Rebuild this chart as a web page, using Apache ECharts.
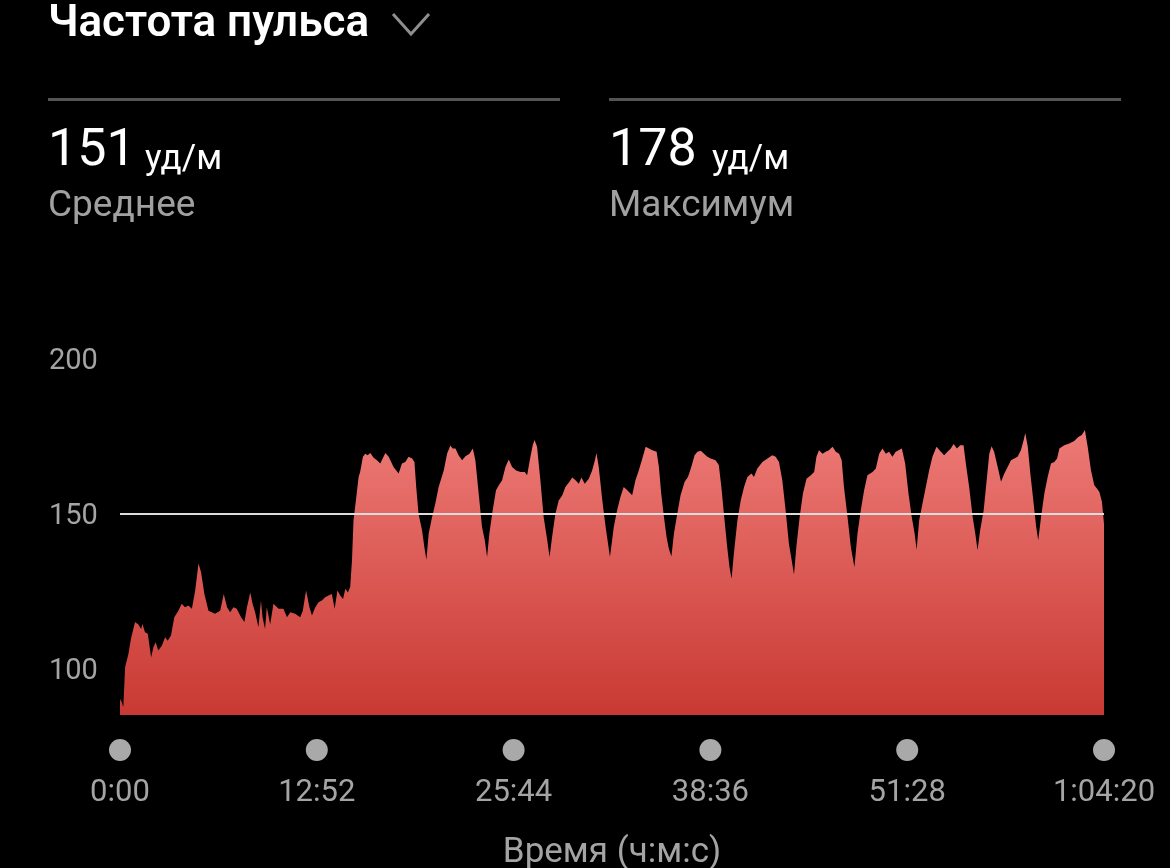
<!DOCTYPE html>
<html>
<head>
<meta charset="utf-8">
<script src="https://cdn.jsdelivr.net/npm/echarts@6/dist/echarts.min.js"></script>
<style>
html,body{margin:0;padding:0;background:#000;}
#c{width:1170px;height:868px;}
</style>
</head>
<body>
<div id="c"></div>
<script>
// ---- data (time in seconds, heart rate in bpm) ----
const timesSec = [
0,7,13,20,33,43,59,72,83,88,98,109,122,131,140,150,164,177,187,200,
213,229,242,255,268,282,295,308,318,331,347,360,373,393,407,420,432,445,458,475,
488,498,511,520,530,543,553,559,569,576,589,602,622,641,655,668,687,707,717,730,
743,753,766,779,792,805,818,831,842,853,864,875,884,894,903,910,916,927,936,942,
953,962,971,982,995,1008,1021,1041,1054,1073,1093,1106,1119,1132,1146,1155,1162,1171,1185,1194,
1202,1211,1224,1237,1250,1270,1283,1296,1305,1316,1328,1342,1355,1371,1384,1394,1407,1420,1431,1440,
1449,1462,1475,1486,1499,1512,1525,1538,1554,1571,1588,1597,1610,1619,1626,1636,1649,1662,1676,1685,
1695,1708,1721,1735,1747,1763,1774,1787,1800,1810,1823,1839,1852,1863,1869,1878,1892,1905,1922,1937,
1950,1963,1976,1990,2009,2022,2035,2049,2062,2075,2088,2105,2114,2123,2134,2144,2153,2163,2173,2186,
2199,2215,2228,2241,2254,2265,2278,2291,2304,2317,2336,2349,2359,2369,2382,2391,2399,2408,2422,2435,
2448,2461,2477,2487,2500,2520,2540,2559,2572,2585,2598,2611,2624,2635,2644,2653,2666,2679,2693,2710,
2723,2732,2742,2756,2768,2781,2795,2808,2821,2831,2840,2854,2867,2881,2893,2906,2919,2932,2952,2965,
2978,2991,3004,3017,3030,3043,3067,3080,3093,3106,3117,3125,3135,3148,3161,3174,3187,3203,3220,3233,
3246,3259,3270,3283,3296,3309,3318,3331,3345,3355,3364,3374,3388,3401,3410,3419,3429,3443,3456,3469,
3482,3495,3508,3521,3534,3545,3551,3561,3571,3584,3594,3602,3613,3626,3639,3652,3665,3676,3685,3704,
3724,3743,3759,3773,3785,3796,3809,3822,3833,3842,3852,3860
];
const heartRate = [
91.2,90.1,88.5,101.4,105.7,110.6,116,115.2,113.8,115.4,112.7,112.2,104.6,107.9,109.5,106.8,108.4,111.1,110,111.7,
117.6,119.7,121.9,120.8,121.4,120.3,126.2,134.9,132.1,125.1,119.7,119.2,118.7,119.7,125.1,120.8,119.2,120.8,120.3,117.6,
116,120.8,125.6,121.9,119.2,114.3,123,117.6,113.8,120.8,115.2,121.9,120.3,120.3,117.6,119.2,118.7,117.6,119.7,126.2,
120.8,118.1,120.8,122.4,123,124,124.6,125.1,120.3,126.2,124.6,123.5,126.8,125.6,127.3,135.9,148.9,156.4,162.9,164.5,
169.4,170.4,169.9,170.6,169.1,168.3,167.2,170.6,169.4,166.1,164,167.2,167.7,169.4,168.8,167.7,159.6,151,145.6,140.2,
136.1,144.6,149.9,154.3,159.6,165,170.4,173,172.1,172.1,169.9,168.3,169.6,170.4,172.1,168.3,157.5,146.7,142.4,137,
144.6,152.1,158.6,160.2,161.8,166.1,168.5,166.1,165,164.5,164.5,163.4,169.4,173.1,174.8,172.6,161.8,149.9,142.4,137,
143.5,151,155.3,157,159.6,161.3,162.7,161.8,160.7,162.7,160.7,162.3,165,168.3,170.6,166.1,155.3,146.7,137,146.7,
152.1,156.4,159.6,158.6,157,161.8,165,168.8,172.6,172.1,171.5,171,166.1,157.5,149.9,143.5,139.7,137.2,144.6,151,
157,161.3,162.9,166.1,169.9,171,171.3,170.4,169.4,168.8,168.3,166.7,159.6,151,140.2,133.7,130,138.1,148.9,155.3,
159.6,162.9,164,162.9,165.6,167.7,168.8,169.9,169.4,167.7,161.8,152.1,141.3,135.9,131.4,140.2,149.9,157.5,162.3,163.4,
164.5,169.4,171.5,170.4,171,171.5,172.6,171,170.4,168.3,159.6,149.9,140.2,133.7,144.6,152.1,158.6,163.4,164.5,165.6,
170.4,172.1,170.4,171,169.4,171,172.1,167.2,157.5,149.9,144.6,139.4,148.9,154.3,159.6,165,169.4,172.6,171,169.9,
171,172.1,173.5,172.1,173.1,173.1,167.2,159.6,149.9,144.6,139.2,145.6,152.1,162.9,170.4,172.8,171,166.1,161.3,164,
166.1,168.3,168.8,169.4,171.5,174.8,177.1,172.6,164,154.3,146.7,142.4,149.9,157.5,162.9,167.2,167.7,168.8,172.1,173.1,
173.7,174.5,175.8,176.4,178,172.6,165,160.2,159.1,158,154.8,147.8
];
const xTickSec = [0, 772, 1544, 2316, 3088, 3860];
const yTickValues = [100, 150, 200];
const avgHR = 151;
const maxHR = 178;
const titleText = 'Частота пульса';
const unitText = 'уд/м';
const avgLabel = 'Среднее';
const maxLabel = 'Максимум';
const xAxisTitle = 'Время (ч:м:с)';

function fmtTime(s) {
  s = Math.round(s);
  const h = Math.floor(s / 3600);
  const m = Math.floor((s % 3600) / 60);
  const sec = s % 60;
  const ss = String(sec).padStart(2, '0');
  if (h > 0) return h + ':' + String(m).padStart(2, '0') + ':' + ss;
  return m + ':' + ss;
}

const FONT = 'Roboto, "Noto Sans", "DejaVu Sans", sans-serif';
const chart = echarts.init(document.getElementById('c'), null, { renderer: 'canvas' });

const option = {
  backgroundColor: '#000',
  animation: false,
  grid: { left: 120, right: 66, top: 362, bottom: 153, containLabel: false, outerBoundsMode: 'none' },
  xAxis: {
    type: 'value',
    min: 0,
    max: 3860,
    axisLine: { show: false },
    axisTick: { show: false },
    splitLine: { show: false },
    axisLabel: {
      customValues: xTickSec,
      margin: 24,
      formatter: v => '{dot| }\n{t|' + fmtTime(v) + '}',
      rich: {
        dot: { width: 22, height: 22, lineHeight: 22, borderRadius: 11, backgroundColor: '#a9a9a9' },
        t: { fontSize: 31, lineHeight: 64, color: '#a4a4a4', fontFamily: FONT }
      }
    },
    name: xAxisTitle,
    nameLocation: 'middle',
    nameGap: 121,
    nameTextStyle: { fontSize: 35, color: '#a4a4a4', fontFamily: FONT }
  },
  yAxis: {
    type: 'value',
    min: 86,
    max: 200,
    axisLine: { show: false },
    axisTick: { show: false },
    splitLine: { show: false },
    axisLabel: {
      customValues: yTickValues,
      align: 'left',
      margin: 71,
      fontSize: 29,
      color: '#a4a4a4',
      fontFamily: FONT
    }
  },
  series: [{
    type: 'line',
    data: timesSec.map((t, i) => [t, heartRate[i]]),
    showSymbol: false,
    symbol: 'none',
    lineStyle: { width: 0 },
    areaStyle: {
      origin: 'start',
      opacity: 1,
      color: new echarts.graphic.LinearGradient(0, 0, 0, 1, [
        { offset: 0, color: '#ed7a76' },
        { offset: 1, color: '#c93933' }
      ])
    },
    markLine: {
      silent: true,
      symbol: ['none', 'none'],
      label: { show: false },
      lineStyle: { color: '#dcdcdc', width: 2, type: 'solid' },
      data: [{ yAxis: avgHR }]
    }
  }],
  graphic: [
    { type: 'text', x: 48, y: 25, style: { text: titleText, fill: '#fff', font: '600 44px ' + FONT, verticalAlign: 'middle' } },
    { type: 'polyline', shape: { points: [[393, 14], [411, 34], [429, 14]] }, style: { stroke: '#8e8e8e', lineWidth: 3, fill: null } },
    { type: 'line', shape: { x1: 48, y1: 99.5, x2: 560, y2: 99.5 }, style: { stroke: '#545454', lineWidth: 3 } },
    { type: 'line', shape: { x1: 609, y1: 99.5, x2: 1121, y2: 99.5 }, style: { stroke: '#545454', lineWidth: 3 } },
    { type: 'text', x: 48, y: 152, style: { text: String(avgHR), fill: '#fff', font: '400 52px ' + FONT, verticalAlign: 'middle' } },
    { type: 'text', x: 145, y: 160, style: { text: unitText, fill: '#fff', font: '400 35px ' + FONT, verticalAlign: 'middle' } },
    { type: 'text', x: 48, y: 207, style: { text: avgLabel, fill: '#a0a0a0', font: '400 37px ' + FONT, verticalAlign: 'middle' } },
    { type: 'text', x: 609, y: 152, style: { text: String(maxHR), fill: '#fff', font: '400 52px ' + FONT, verticalAlign: 'middle' } },
    { type: 'text', x: 712, y: 160, style: { text: unitText, fill: '#fff', font: '400 35px ' + FONT, verticalAlign: 'middle' } },
    { type: 'text', x: 609, y: 207, style: { text: maxLabel, fill: '#a0a0a0', font: '400 37px ' + FONT, verticalAlign: 'middle' } }
  ]
};
chart.setOption(option);
</script>
</body>
</html>
